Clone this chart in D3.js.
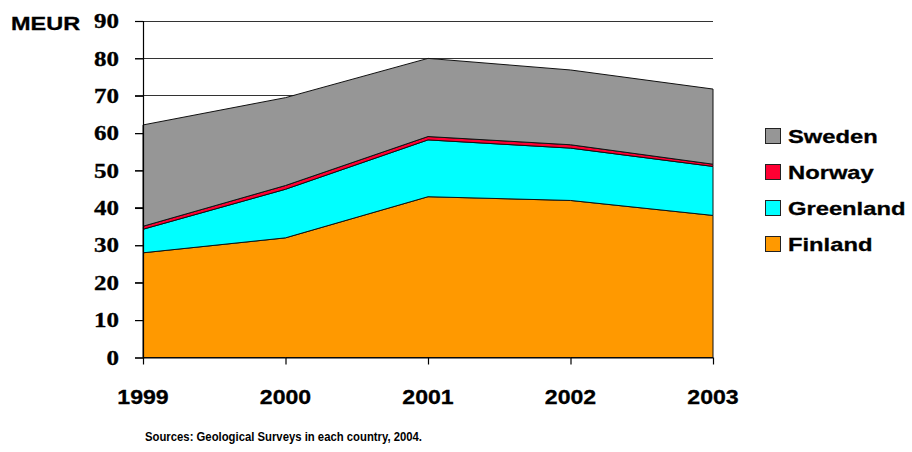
<!DOCTYPE html>
<html>
<head>
<meta charset="utf-8">
<script src="https://cdn.jsdelivr.net/npm/d3@7"></script>
<style>
  html, body { margin: 0; padding: 0; background: #fff; }
  svg { display: block; }
</style>
</head>
<body>
<svg id="chart" width="912" height="452"></svg>
<script>
// Mineral exploration spending, million euros, stacked by country
const years = ["1999", "2000", "2001", "2002", "2003"];
const finland   = [28.0, 32.0, 43.0, 42.0, 38.0];
const greenland = [6.3, 13.0, 15.2, 14.0, 13.1];
const norway    = [0.8, 1.0, 0.9, 0.9, 0.6];
const sweden    = [27.1, 23.5, 20.9, 20.0, 20.1];
const seriesNames = ["Finland", "Greenland", "Norway", "Sweden"];
const seriesColors = ["#ff9900", "#00ffff", "#ff0033", "#969696"];
const yTicks = [0, 10, 20, 30, 40, 50, 60, 70, 80, 90];
const unitLabel = "MEUR";
const sourceNote = "Sources: Geological Surveys in each country, 2004.";

const rows = years.map((y, i) => ({
  year: y,
  Finland: finland[i],
  Greenland: greenland[i],
  Norway: norway[i],
  Sweden: sweden[i]
}));

const svg = d3.select("#chart");
const x = d3.scalePoint().domain(years).range([143, 713]);
const y = d3.scaleLinear().domain([0, 90]).range([357.5, 21]);

// Bold text, widened horizontally around its anchor point
function wideText(g, str, px, py, size, sx, anchor, family) {
  return g.append("text")
    .attr("transform", `translate(${px},${py}) scale(${sx},1)`)
    .attr("text-anchor", anchor)
    .attr("dominant-baseline", "central")
    .attr("font-family", family || "'Liberation Sans', Arial, sans-serif")
    .attr("font-weight", "bold")
    .attr("font-size", size)
    .attr("fill", "#000")
    .attr("stroke", "#000")
    .attr("stroke-width", 0.3)
    .text(str);
}

// Horizontal gridlines (behind the areas)
svg.append("g")
  .selectAll("line")
  .data(yTicks.filter(t => t > 0))
  .join("line")
  .attr("x1", 135).attr("x2", 713)
  .attr("y1", d => y(d)).attr("y2", d => y(d))
  .attr("stroke", "#333").attr("stroke-width", 1)
  .attr("shape-rendering", "crispEdges");

// Stacked areas
const stack = d3.stack().keys(seriesNames);
const layers = stack(rows);
const area = d3.area()
  .x(d => x(d.data.year))
  .y0(d => y(d[0]))
  .y1(d => y(d[1]));

svg.append("g")
  .selectAll("path")
  .data(layers)
  .join("path")
  .attr("d", area)
  .attr("fill", (d, i) => seriesColors[i])
  .attr("stroke", "#111")
  .attr("stroke-width", 1)
  .attr("stroke-linejoin", "miter");

// Y axis
const yAxis = svg.append("g")
  .attr("transform", "translate(143,0)")
  .call(d3.axisLeft(y).tickValues(yTicks).tickSize(8).tickFormat(""));
yAxis.select(".domain").attr("stroke", "#000").attr("stroke-width", 1.2);
yAxis.selectAll(".tick line").attr("stroke", "#000").attr("stroke-width", 1.2);

const yLabels = svg.append("g");
yTicks.forEach(t => {
  wideText(yLabels, String(t), 119, y(t) + 0.5, 20, 1.25, "end",
    "'Liberation Serif', 'Times New Roman', serif");
});

// X axis
const xAxis = svg.append("g")
  .attr("transform", `translate(0,${y(0)})`)
  .call(d3.axisBottom(x).tickSize(7).tickFormat("").tickSizeOuter(0));
xAxis.select(".domain").attr("stroke", "#000").attr("stroke-width", 1.2);
xAxis.selectAll(".tick line").attr("stroke", "#000").attr("stroke-width", 1.2);

const xLabels = svg.append("g");
years.forEach(yr => {
  wideText(xLabels, yr, x(yr), 397, 21, 1.1, "middle");
});

// Unit label
wideText(svg, unitLabel, 11, 23, 18.5, 1.27, "start");

// Legend (top entry is the top layer)
const legend = svg.append("g");
const legendOrder = ["Sweden", "Norway", "Greenland", "Finland"];
legendOrder.forEach((name, i) => {
  const cy = 136 + i * 36;
  const ci = seriesNames.indexOf(name);
  legend.append("rect")
    .attr("x", 765.5).attr("y", cy - 7.5)
    .attr("width", 15).attr("height", 15)
    .attr("fill", seriesColors[ci])
    .attr("stroke", "#222").attr("stroke-width", 1);
  wideText(legend, name, 788, cy + 0.5, 19, 1.25, "start");
});

// Source note
svg.append("text")
  .attr("x", 145).attr("y", 436)
  .attr("dominant-baseline", "central")
  .attr("font-family", "'Liberation Sans', Arial, sans-serif")
  .attr("font-weight", "bold")
  .attr("font-size", 13.5)
  .attr("textLength", 277)
  .attr("lengthAdjust", "spacingAndGlyphs")
  .attr("fill", "#000")
  .text(sourceNote);
</script>
</body>
</html>
